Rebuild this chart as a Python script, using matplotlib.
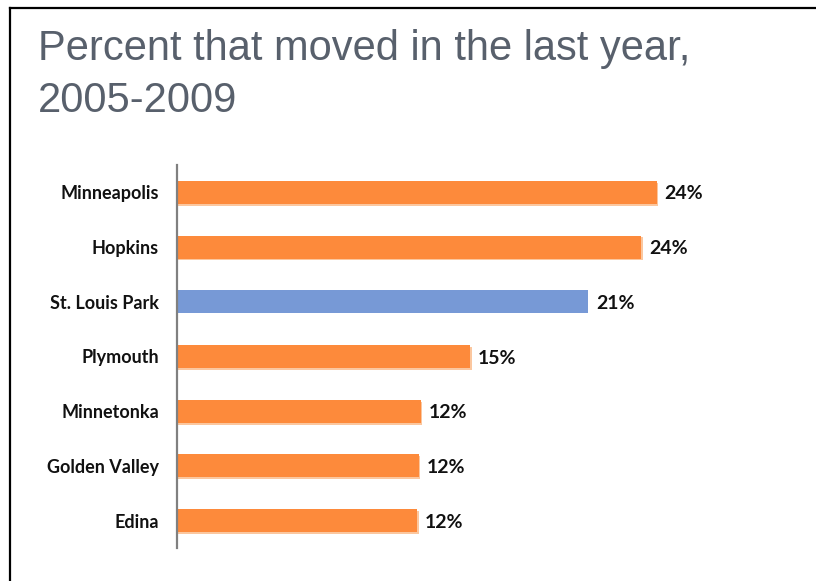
import matplotlib
matplotlib.use("Agg")
import matplotlib.pyplot as plt
from matplotlib.lines import Line2D

categories = ["Minneapolis", "Hopkins", "St. Louis Park", "Plymouth",
              "Minnetonka", "Golden Valley", "Edina"]
values = [24.4, 23.6, 20.9, 14.9, 12.4, 12.3, 12.2]
value_labels = ["24%", "24%", "21%", "15%", "12%", "12%", "12%"]
highlight = "St. Louis Park"

title_line1 = "Percent that moved in the last year,"
title_line2 = "2005-2009"

ORANGE = "#FD8A3B"
ORANGE_SHADOW = "#FBC79F"
BLUE = "#7799D6"

fig = plt.figure(figsize=(8.16, 5.81), dpi=100)
ax = fig.add_axes([177/816, 33/581, 590/816, 383/581])

ypos = list(range(len(categories)))
colors = [BLUE if c == highlight else ORANGE for c in categories]
shadow = [("none" if c == highlight else ORANGE_SHADOW) for c in categories]

bh = 0.42
# subtle shadow under orange bars
ax.barh([y + 0.035 for y in ypos], [v + 0.08 for v in values], height=bh,
        color=shadow, left=0, zorder=1)
ax.barh(ypos, values, height=bh, color=colors, zorder=2)

for y, v, lab in zip(ypos, values, value_labels):
    ax.text(v + 0.4, y + 0.03, lab, va="center", ha="left",
            fontsize=14, fontweight="bold", family="Lato", color="#111111")

ax.set_ylim(len(categories) - 0.5, -0.5)
ax.set_xlim(0, 30)
ax.set_yticks(ypos)
ax.set_yticklabels(categories, fontsize=13, fontweight="bold", family="Lato",
                   color="#111111")
ax.tick_params(axis="y", length=0, pad=13)
ax.set_xticks([])
for s in ["top", "right", "bottom"]:
    ax.spines[s].set_visible(False)
ax.spines["left"].set_color("#808080")
ax.spines["left"].set_linewidth(1.6)

fig.text(38/816, 1 - 60/581, title_line1, fontsize=30, family="Liberation Sans",
         color="#58606C", ha="left", va="baseline")
fig.text(38/816, 1 - 112/581, title_line2, fontsize=30, family="Liberation Sans",
         color="#58606C", ha="left", va="baseline")

# slide frame: top and left border lines
fig.add_artist(Line2D([9.5/816, 9.5/816], [0, 1 - 8/581], transform=fig.transFigure,
                      color="black", linewidth=1.6))
fig.add_artist(Line2D([9.5/816, 1], [1 - 8/581, 1 - 8/581], transform=fig.transFigure,
                      color="black", linewidth=1.6))

fig.savefig("out.png", dpi=100)
